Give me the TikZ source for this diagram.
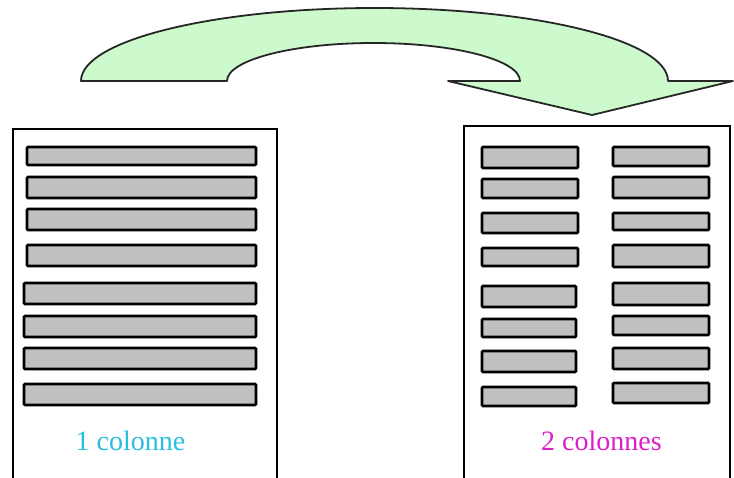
\documentclass[tikz,border=0pt]{standalone}
\usepackage{fontspec}
\setmainfont{Liberation Serif}
\usepackage{tikz}
\usetikzlibrary{arrows.meta,positioning}
\usepackage{xcolor}
\definecolor{bargray}{RGB}{192,192,192}
\definecolor{arrowgreen}{RGB}{204,250,204}
\definecolor{onecol}{RGB}{40,190,225}
\definecolor{twocol}{RGB}{220,30,200}

\begin{document}
\begin{tikzpicture}[
  x=1pt, y=-1pt,
  page/.style={draw=black, line width=1.8pt, fill=white},
  bar/.style={draw=black, line width=2.6pt, fill=bargray, rounded corners=1pt},
  caption/.style={font=\fontsize{28}{30}\selectfont, anchor=base, inner sep=0pt},
  curvearrow/.style={draw=black!85, line width=1.8pt, fill=arrowgreen, line join=round},
]
\useasboundingbox (0,0) rectangle (734,477);

% Arrow
\draw[curvearrow] (81,81) arc[start angle=180, end angle=0, x radius=293.5pt, y radius=73pt]
  -- (733,81) -- (592,115) -- (448,81) -- (520,81)
  arc[start angle=0, end angle=180, x radius=146.5pt, y radius=38pt] -- cycle;

% Left page (1 column)
\draw[page] (13,129) rectangle (277,482);
\foreach \xa/\ya/\yb in {27/147/165, 27/177/198, 27/209/230, 27/245/266,
                         24/283/304, 24/316/337, 24/348/369, 24/384/405} {
  \draw[bar] (\xa,\ya) rectangle (256,\yb);
}
\node[caption, text=onecol] (one) at (130.5,450) {1 colonne};

% Right page (2 columns)
\draw[page] (464,126) rectangle (730,482);
\foreach \xb/\ya/\yb in {578/147/168, 578/179/198, 578/213/233, 578/248/266,
                         576/286/307, 576/319/337, 576/351/372, 576/387/406} {
  \draw[bar] (482,\ya) rectangle (\xb,\yb);
}
\foreach \ya/\yb in {147/166, 177/198, 213/230, 245/267,
                     283/305, 316/335, 348/369, 383/403} {
  \draw[bar] (613,\ya) rectangle (709,\yb);
}
\node[caption, text=twocol] (two) at (601.5,450) {2 colonnes};
\end{tikzpicture}
\end{document}
